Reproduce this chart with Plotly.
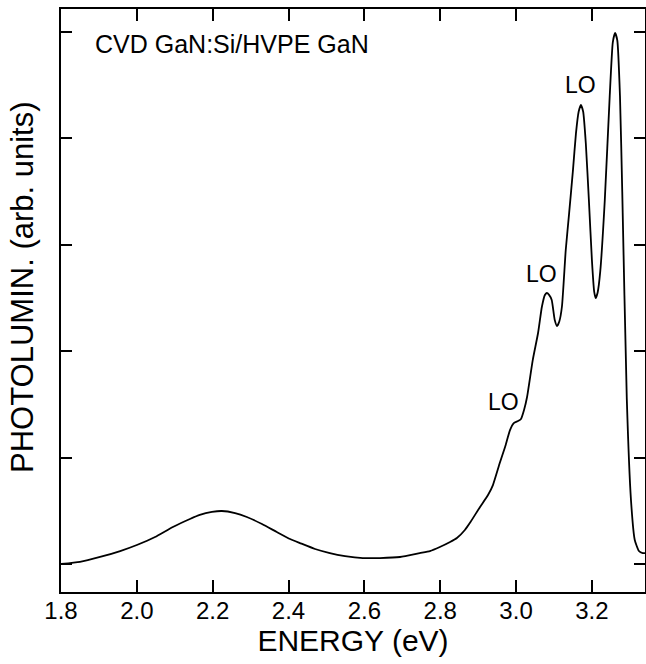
import plotly.graph_objects as go

energy = [1.800, 1.850, 1.903, 1.956, 2.000, 2.048, 2.095, 2.140, 2.166, 2.198,
          2.224, 2.259, 2.290, 2.330, 2.369, 2.404, 2.430, 2.470, 2.509, 2.549,
          2.596, 2.641, 2.694, 2.746, 2.773, 2.799, 2.826, 2.844, 2.865, 2.878,
          2.905, 2.926, 2.939, 2.957, 2.971, 2.984, 2.994, 3.005, 3.013, 3.021,
          3.029, 3.044, 3.058, 3.068, 3.076, 3.081, 3.087, 3.094, 3.102, 3.108,
          3.114, 3.121, 3.131, 3.140, 3.150, 3.158, 3.165, 3.171, 3.177, 3.184,
          3.192, 3.200, 3.206, 3.210, 3.215, 3.222, 3.234, 3.247, 3.255, 3.261,
          3.267, 3.274, 3.280, 3.292, 3.303, 3.313, 3.324, 3.334, 3.340]
intensity = [0.00, 0.02, 0.066, 0.122, 0.179, 0.254, 0.348, 0.423, 0.461, 0.489,
             0.498, 0.479, 0.442, 0.376, 0.301, 0.235, 0.197, 0.141, 0.103, 0.075,
             0.056, 0.056, 0.066, 0.103, 0.122, 0.160, 0.207, 0.244, 0.320, 0.385,
             0.536, 0.648, 0.742, 0.949, 1.100, 1.259, 1.325, 1.344, 1.363, 1.447,
             1.570, 1.917, 2.171, 2.415, 2.528, 2.547, 2.530, 2.481, 2.293, 2.237,
             2.280, 2.420, 2.951, 3.300, 3.700, 4.050, 4.250, 4.314, 4.250, 3.950,
             3.421, 2.857, 2.560, 2.500, 2.550, 2.750, 3.421, 4.400, 4.900, 4.991,
             4.920, 4.400, 3.500, 1.550, 0.602, 0.226, 0.122, 0.103, 0.103]

x_ticks = [1.8, 2.0, 2.2, 2.4, 2.6, 2.8, 3.0, 3.2]
x_tick_labels = ["1.8", "2.0", "2.2", "2.4", "2.6", "2.8", "3.0", "3.2"]
y_ticks = [0, 1, 2, 3, 4, 5]

lo_labels = ["LO", "LO", "LO"]
lo_x = [2.966, 3.068, 3.171]
lo_y = [1.52, 2.73, 4.5]

font = "Liberation Sans, Arial, Helvetica, sans-serif"

fig = go.Figure()
fig.add_trace(go.Scatter(x=energy, y=intensity, mode="lines",
                         line=dict(color="black", width=1.8, shape="spline", smoothing=0.5),
                         showlegend=False, hoverinfo="skip"))

for t, xx, yy in zip(lo_labels, lo_x, lo_y):
    fig.add_annotation(x=xx, y=yy, text=t, showarrow=False,
                       font=dict(family=font, size=23, color="black"),
                       xanchor="center", yanchor="middle")

fig.add_annotation(xref="paper", yref="paper", x=0.055, y=0.94,
                   text="CVD GaN:Si/HVPE GaN", showarrow=False,
                   font=dict(family=font, size=25, color="black"),
                   xanchor="left", yanchor="middle")

# y-axis title (placed as rotated text to match reference position)
fig.add_annotation(xref="paper", yref="paper", x=-0.067, y=0.523,
                   text="PHOTOLUMIN. (arb. units)", showarrow=False, textangle=-90,
                   font=dict(family=font, size=31, color="black"),
                   xanchor="center", yanchor="middle")

fig.update_layout(
    width=646, height=664,
    margin=dict(l=61, r=1, t=9, b=72),
    paper_bgcolor="white", plot_bgcolor="white",
    font=dict(family=font, color="black"),
)
fig.update_xaxes(range=[1.8, 3.34], tickvals=x_ticks, ticktext=x_tick_labels,
                 ticks="inside", ticklen=12, tickwidth=1.5, tickcolor="black",
                 showline=True, linewidth=2, linecolor="black", mirror="ticks",
                 showgrid=False, zeroline=False, automargin=False,
                 tickfont=dict(family=font, size=24),
                 title=dict(text="ENERGY (eV)", font=dict(family=font, size=30), standoff=5))
try:
    fig.update_xaxes(ticklabelstandoff=-4)
except Exception:
    pass
fig.update_yaxes(range=[-0.263, 5.216], tickvals=y_ticks, showticklabels=False,
                 ticks="inside", ticklen=11, tickwidth=1.5, tickcolor="black",
                 showline=True, linewidth=2, linecolor="black", mirror="ticks",
                 showgrid=False, zeroline=False, automargin=False)

fig.write_html("out.html", config={"displayModeBar": False},
               post_script="document.body.style.margin='0';document.body.style.overflow='hidden';")
